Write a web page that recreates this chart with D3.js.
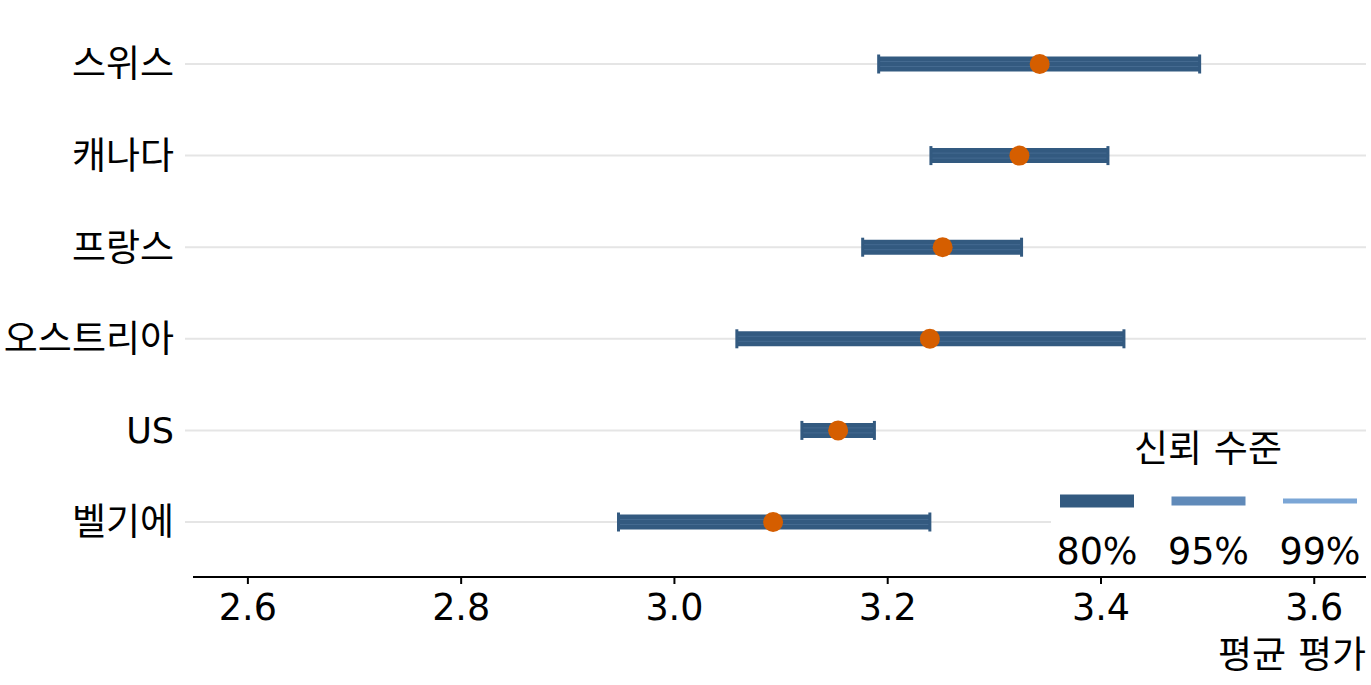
<!DOCTYPE html>
<html><head><meta charset="utf-8">
<script src="https://cdn.jsdelivr.net/npm/d3@7"></script>
<style>body{margin:0;background:#fff}svg{display:block}text{font-family:"DejaVu Sans","Noto Sans CJK KR",sans-serif}</style>
</head><body><svg id="c" width="1371" height="685"></svg>
<script>
const countries = ["스위스","캐나다","프랑스","오스트리아","US","벨기에"];
const means = [3.343, 3.324, 3.252, 3.240, 3.154, 3.093];
const lower = [3.192, 3.241, 3.177, 3.059, 3.120, 2.948];
const upper = [3.493, 3.407, 3.326, 3.422, 3.188, 3.240];
const levels = ["80%","95%","99%"];
const levelColors = ["#335a80","#608ab9","#7ba6d6"];
const levelWidths = [13, 9, 5];
const xTicks = [2.6, 2.8, 3.0, 3.2, 3.4, 3.6];

const svg = d3.select("#c");
const x = d3.scaleLinear().domain([2.549, 3.649]).range([193, 1366]);
const y = d3.scalePoint().domain(countries).range([64, 522]);
const F = 35;   // latin y labels
const FN = 36.5; // numbers
const FK = 37;  // hangul
const isLatin = s => /^[\x00-\x7F]+$/.test(s);

// gridlines + y labels
svg.append("g").selectAll("line").data(countries).join("line")
  .attr("x1",185).attr("x2",1366).attr("y1",d=>y(d)).attr("y2",d=>y(d))
  .attr("stroke","#e5e5e5").attr("stroke-width",2);
svg.append("g").selectAll("text").data(countries).join("text")
  .attr("x",174).attr("y",d=>y(d)).attr("dy","0.36em").attr("text-anchor","end")
  .attr("font-size",d=>isLatin(d)?F:FK).attr("fill","#000").text(d=>d);

// intervals
const rows = countries.map((c,i)=>({c, m:means[i], lo:lower[i], hi:upper[i]}));
const g = svg.append("g");
levels.slice().reverse().forEach((lv,k)=>{
  const li = levels.length-1-k;
  g.selectAll(null).data(rows).join("line")
    .attr("x1",d=>x(d.lo)).attr("x2",d=>x(d.hi)).attr("y1",d=>y(d.c)).attr("y2",d=>y(d.c))
    .attr("stroke",levelColors[li]).attr("stroke-width",levelWidths[li]+2);
});
// faint seams
[-2.5, 2.5].forEach(off=>{
  g.selectAll(null).data(rows).join("line")
    .attr("x1",d=>x(d.lo)).attr("x2",d=>x(d.hi)).attr("y1",d=>y(d.c)+off).attr("y2",d=>y(d.c)+off)
    .attr("stroke","#4c7198").attr("stroke-width",1).attr("opacity",0.7);
});
// caps
["lo","hi"].forEach(key=>{
  g.selectAll(null).data(rows).join("line")
    .attr("x1",d=>x(d[key])).attr("x2",d=>x(d[key]))
    .attr("y1",d=>y(d.c)-9.5).attr("y2",d=>y(d.c)+9.5)
    .attr("stroke",levelColors[0]).attr("stroke-width",3);
});
// means
g.selectAll("circle").data(rows).join("circle")
  .attr("cx",d=>x(d.m)).attr("cy",d=>y(d.c)).attr("r",10).attr("fill","#d55e00");

// x axis
const ax = svg.append("g").attr("transform","translate(0,577)")
  .call(d3.axisBottom(x).tickValues(xTicks).tickFormat(d3.format(".1f")).tickSize(7).tickPadding(10));
ax.select(".domain").attr("stroke","#000").attr("stroke-width",2.2).attr("d","M193,0H1366");
ax.selectAll(".tick line").attr("stroke","#000").attr("stroke-width",2);
ax.selectAll(".tick text").attr("font-size",FN).attr("font-family","DejaVu Sans").attr("fill","#000");
svg.append("text").attr("x",1366).attr("y",668).attr("text-anchor","end").attr("font-size",FK).text("평균 평가");

// legend
const lg = svg.append("g");
lg.append("rect").attr("x",1051).attr("y",432).attr("width",320).attr("height",143).attr("fill","#fff");
lg.append("text").attr("x",1208).attr("y",462).attr("text-anchor","middle").attr("font-size",FK).text("신뢰 수준");
const lx = d3.scalePoint().domain(levels).range([1097,1320]);
lg.selectAll("line").data(levels).join("line")
  .attr("x1",d=>lx(d)-37).attr("x2",d=>lx(d)+37).attr("y1",501).attr("y2",501)
  .attr("stroke",(d,i)=>levelColors[i]).attr("stroke-width",(d,i)=>levelWidths[i]);
lg.selectAll("text.l").data(levels).join("text").attr("class","l")
  .attr("x",d=>lx(d)).attr("y",564).attr("text-anchor","middle").attr("font-size",FN).text(d=>d);
</script></body></html>
